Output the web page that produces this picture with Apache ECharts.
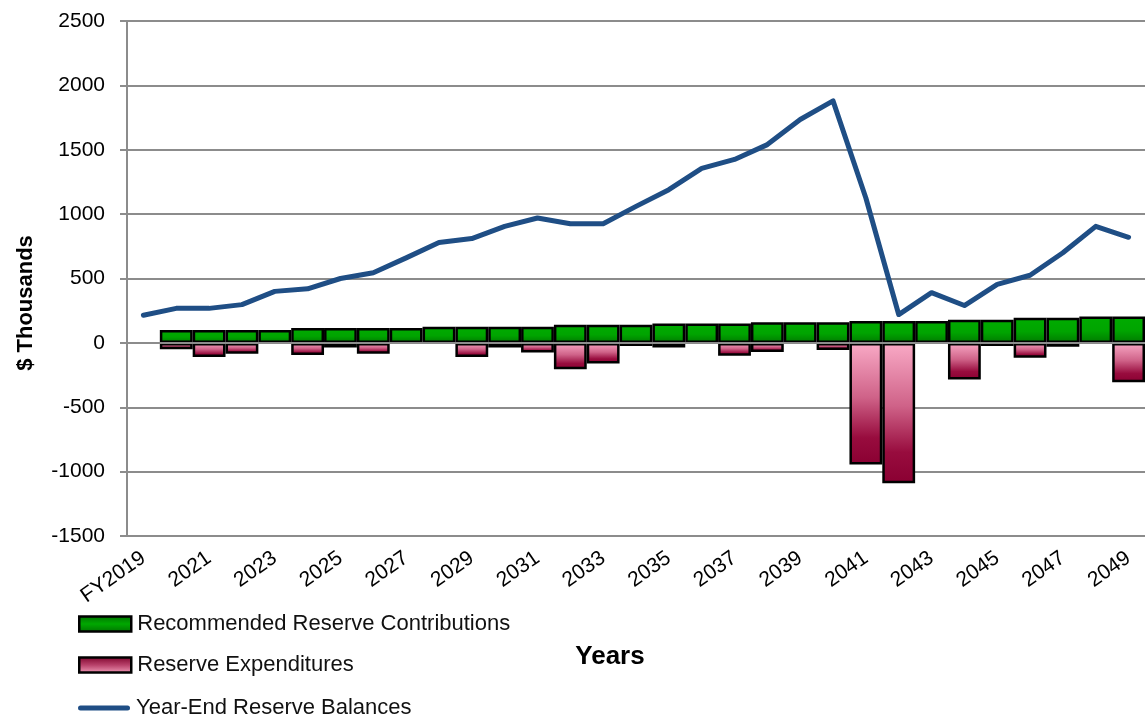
<!DOCTYPE html>
<html>
<head>
<meta charset="utf-8">
<script src="https://cdn.jsdelivr.net/npm/echarts@6/dist/echarts.min.js"></script>
<style>
html,body{margin:0;padding:0;background:#fff;}
#chart{width:1145px;height:723px;}
</style>
</head>
<body>
<div id="chart"></div>
<script>
const years = ['FY2019','2020','2021','2022','2023','2024','2025','2026','2027','2028','2029','2030','2031','2032','2033','2034','2035','2036','2037','2038','2039','2040','2041','2042','2043','2044','2045','2046','2047','2048','2049'];
const contributions = [0,100,100,100,100,115,115,115,115,125,125,125,125,140,140,140,150,150,150,160,160,160,170,170,170,180,180,195,195,205,205];
const expenditures = [0,-50,-110,-85,0,-95,-35,-85,0,0,-110,-35,-75,-205,-160,-25,-35,0,-100,-70,0,-55,-945,-1090,0,-285,-25,-115,-30,0,-305];
const balances = [215,268,268,297,400,420,500,545,660,780,810,905,970,925,925,1060,1190,1355,1425,1540,1735,1880,1125,220,390,290,455,525,700,905,820];
const yTicks = {min:-1500, max:2500, interval:500};
const seriesNames = ['Recommended Reserve Contributions','Reserve Expenditures','Year-End Reserve Balances'];

const FONT = "'Liberation Sans', Arial, sans-serif";
const chart = echarts.init(document.getElementById('chart'), null, {renderer:'canvas'});

const greenGrad = new echarts.graphic.LinearGradient(0,0,0,1,[
  {offset:0,color:'#00ac00'},{offset:0.55,color:'#00a400'},{offset:1,color:'#007a00'}]);
const redGrad = new echarts.graphic.LinearGradient(0,0,0,1,[
  {offset:0,color:'#f9aac6'},{offset:0.45,color:'#cf6288'},{offset:0.78,color:'#980c3e'},{offset:1,color:'#8a0032'}]);
const redLegendGrad = new echarts.graphic.LinearGradient(0,0,0,1,[
  {offset:0,color:'#7a0028'},{offset:0.5,color:'#b8416a'},{offset:1,color:'#f2a0bc'}]);
const greenLegendGrad = new echarts.graphic.LinearGradient(0,0,0,1,[
  {offset:0,color:'#007000'},{offset:0.5,color:'#00a800'},{offset:1,color:'#007000'}]);

const nz = arr => arr.map(v => v === 0 ? '-' : v);

const legendItems = [
  {name:seriesNames[0], icon:'rect', itemStyle:{color:greenLegendGrad, borderColor:'#000', borderWidth:2.5}},
  {name:seriesNames[1], icon:'rect', itemStyle:{color:redLegendGrad, borderColor:'#000', borderWidth:2.5}},
  {name:seriesNames[2], icon:'path://M2.5,0H49.5A2.5,2.5 0 0 1 49.5,5H2.5A2.5,2.5 0 0 1 2.5,0Z', itemStyle:{color:'#1f4e85'}}
];
const legendCenters = [624, 665, 708];

chart.setOption({
  animation:false,
  backgroundColor:'#fff',
  grid:{left:127, right:0, top:21, bottom:187, containLabel:false},
  xAxis:{
    type:'category', data:years, boundaryGap:true, z:3,
    axisLine:{show:true, onZero:true, lineStyle:{color:'#8c8c8c', width:2}},
    axisTick:{show:false},
    axisLabel:{interval:1, rotate:35, margin:20, fontFamily:FONT, fontSize:21, color:'#000'},
    splitLine:{show:false}
  },
  yAxis:{
    type:'value', min:yTicks.min, max:yTicks.max, interval:yTicks.interval,
    axisLine:{show:true, lineStyle:{color:'#8c8c8c', width:2}},
    axisTick:{show:true, inside:false, length:7, lineStyle:{color:'#8c8c8c', width:2}},
    axisLabel:{margin:22, fontFamily:FONT, fontSize:21, color:'#000', formatter:v => String(v)},
    splitLine:{show:true, lineStyle:{color:'#8c8c8c', width:2}}
  },
  legend: legendItems.map((it, i) => ({
    orient:'vertical', left:78, top:legendCenters[i]-14, padding:0, itemWidth:52, itemHeight:15,
    textStyle:{fontFamily:FONT, fontSize:22, color:'#111', lineHeight:28, padding:[0,0,0,1]},
    selectedMode:false,
    data:[it]
  })),
  graphic:[
    {type:'text', x:26, y:303, rotation:Math.PI/2, style:{text:'$ Thousands', font:"bold 22px 'Liberation Sans', Arial, sans-serif", fill:'#000', align:'center', verticalAlign:'middle'}},
    {type:'text', x:610, y:657, style:{text:'Years', font:"bold 26px 'Liberation Sans', Arial, sans-serif", fill:'#000', align:'center', verticalAlign:'middle'}}
  ],
  series:[
    {name:seriesNames[0], type:'bar', data:nz(contributions),
     barGap:'-100%', barCategoryGap:'0%',
     itemStyle:{color:greenGrad, borderColor:'#000', borderWidth:2.5}},
    {name:seriesNames[1], type:'bar', data:nz(expenditures),
     barGap:'-100%', barCategoryGap:'0%',
     itemStyle:{color:redGrad, borderColor:'#000', borderWidth:2.5}},
    {name:seriesNames[2], type:'line', data:balances, z:4,
     symbol:'none', lineStyle:{color:'#1f4e85', width:5, join:'round', cap:'round'},
     itemStyle:{color:'#1f4e85'}}
  ]
});
</script>
</body>
</html>
